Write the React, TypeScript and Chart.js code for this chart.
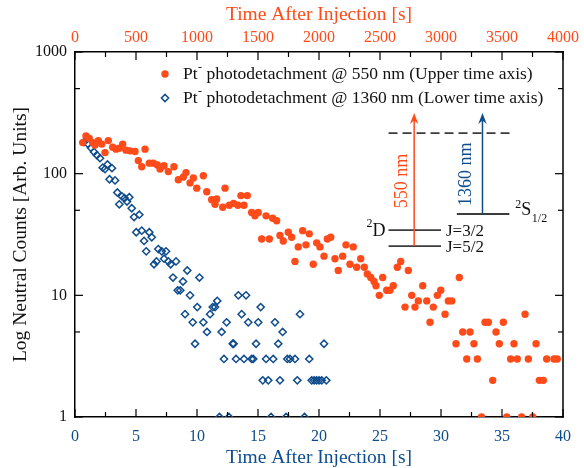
import React, { useEffect, useRef } from 'react';
import { Chart, registerables } from 'chart.js';

Chart.register(...registerables);

const ORANGE = '#FF4A1A';
const BLUE = '#0F4C8C';
const LEVEL = '#3c3c3c';
const FONT = "'Liberation Serif', 'Times New Roman', serif";

// 550 nm photodetachment: time after injection [s] on the upper axis, neutral counts
const orangeTime = [
  63, 90, 117, 145, 164, 191, 219, 246, 273, 309, 336, 363, 391, 418, 451, 492, 519, 547, 574, 609,
  642, 675, 697, 730, 765, 811, 847, 888, 910, 943, 970, 998, 1052, 1080, 1120, 1148, 1161, 1211, 1230, 1265,
  1300, 1335, 1360, 1385, 1412, 1448, 1475, 1502, 1530, 1566, 1593, 1620, 1653, 1680, 1707, 1748, 1776, 1803, 1830, 1866,
  1893, 1920, 1953, 1981, 2008, 2041, 2068, 2096, 2131, 2158, 2194, 2221, 2254, 2281, 2309, 2342, 2371, 2396, 2424, 2451,
  2467, 2494, 2522, 2555, 2582, 2609, 2642, 2670, 2705, 2732, 2760, 2787, 2814, 2850, 2883, 2910, 2937, 2970, 2998, 3033,
  3060, 3088, 3123, 3150, 3178, 3211, 3238, 3270, 3298, 3332, 3361, 3388, 3424, 3451, 3478, 3511, 3539, 3571, 3598, 3625,
  3661, 3689, 3716, 3752, 3779, 3806, 3839, 3866, 3926, 3953,
];
const orangeCounts = [
  180, 204, 195, 180, 172, 187, 175, 149, 187, 165, 159, 162, 175, 156, 154, 152, 128, 114, 159, 122,
  122, 118, 109, 116, 104, 114, 89, 94, 102, 84, 92, 76, 96, 71, 61, 56, 62, 53, 76, 55,
  57, 55, 66, 55, 66, 48, 45, 48, 29, 45, 29, 43, 41, 31, 28, 33, 30, 19, 25, 34,
  26, 32, 18, 27, 25, 21, 29, 30, 20, 16, 21, 26, 18, 25, 17, 20, 17, 15, 14, 13,
  12, 10, 14, 11, 11, 12, 17, 19, 8, 16, 10, 8, 9, 12, 9, 6, 8, 10, 11, 7,
  9, 9, 4, 14, 5, 3, 5, 4, 3, 1, 6, 6, 2, 5, 4, 6, 1, 3, 4, 3,
  1, 7, 3, 1, 4, 2, 2, 3, 3, 3,
];

// 1360 nm photodetachment: time after injection [s] on the lower axis, neutral counts
const blueTime = [
  0.74, 1.07, 1.31, 1.56, 1.8, 2.05, 2.27, 2.46, 2.66, 2.83, 3.03, 3.28, 3.47, 3.63, 3.85, 4.06, 4.26, 4.45, 4.65, 4.84,
  5.02, 5.27, 5.47, 5.66, 5.84, 6.09, 6.29, 6.48, 6.68, 6.83, 7.11, 7.3, 7.46, 7.65, 7.84, 8.03, 8.28, 8.42, 8.63, 8.85,
  9.02, 9.2, 9.43, 9.65, 9.84, 10.02, 10.2, 10.52, 10.82, 11.07, 11.29, 11.48, 11.66, 11.84, 12.02, 12.21, 12.43, 12.62, 12.93, 13.0,
  13.2, 13.39, 13.66, 13.85, 14.02, 14.2, 14.48, 14.61, 14.84, 15.02, 15.22, 15.39, 15.66, 15.84, 16.07, 16.25, 16.39, 16.66, 16.8, 17.02,
  17.3, 17.4, 17.62, 18.03, 18.22, 18.44, 18.81, 19.2, 19.4, 19.6, 19.8, 20.0, 20.22, 20.41, 20.6,
];
const blueCounts = [
  182, 175, 163, 151, 142, 134, 112, 109, 119, 90, 111, 88, 70, 56, 65, 63, 59, 64, 52, 44,
  33, 46, 34, 28, 23, 33, 30, 18, 19, 24, 23, 20, 23, 19, 18, 14, 19, 11, 11, 13,
  7, 16, 10, 6, 4, 8, 14, 6, 5, 7, 8, 8, 9, 1, 5, 3, 6, 1, 4, 4,
  3, 10, 7, 3, 10, 6, 3, 3, 4, 6, 8, 2, 3, 2, 1, 3, 6, 4, 2, 5,
  1, 3, 3, 3, 2, 7, 1, 3, 2, 2, 2, 2, 2, 4, 2,
];

const yTicks = [1, 5, 10, 50, 100, 500, 1000];
const yLabelled = [1, 10, 100, 1000];
const xTicks = [0, 2.5, 5, 7.5, 10, 12.5, 15, 17.5, 20, 22.5, 25, 27.5, 30, 32.5, 35, 37.5, 40];
const x2Ticks = [0, 250, 500, 750, 1000, 1250, 1500, 1750, 2000, 2250, 2500, 2750, 3000, 3250, 3500, 3750, 4000];

const legendLabels = [
  'Pt⁻ photodetachment @ 550 nm (Upper time axis)',
  'Pt⁻ photodetachment @ 1360 nm (Lower time axis)',
];

// Energy level inset, anchored in lower-axis seconds and counts
const INSET = {
  dashX: [25.7, 35.7], dashY: 215,
  dX: [25.7, 30.0], j32Y: 34.4, j52Y: 25.4,
  sX: [31.3, 35.6], sY: 46.6,
  arrow550X: 27.8, arrow1360X: 33.4, arrowTipY: 315,
  label550: [26.8, 87], label1360: [32.1, 99],
};

const tickPlugin = {
  id: 'inwardTicks',
  afterDraw(chart: any) {
    const { ctx, chartArea: a, scales } = chart;
    ctx.save();
    ctx.strokeStyle = '#000';
    const seg = (x1: number, y1: number, x2: number, y2: number) => {
      ctx.beginPath(); ctx.moveTo(x1, y1); ctx.lineTo(x2, y2); ctx.stroke();
    };
    ctx.lineWidth = 1.5;
    seg(a.right, a.top - 0.75, a.right, a.bottom + 0.75);
    ctx.lineWidth = 1.2;
    xTicks.forEach((v) => {
      const p = scales.x.getPixelForValue(v);
      seg(p, a.bottom, p, a.bottom - (v % 5 === 0 ? 8 : 5));
    });
    x2Ticks.forEach((v) => {
      const p = scales.x2.getPixelForValue(v);
      seg(p, a.top, p, a.top + (v % 500 === 0 ? 8 : 5));
    });
    yTicks.forEach((v) => {
      const p = scales.y.getPixelForValue(v);
      const L = yLabelled.includes(v) ? 8 : 5;
      seg(a.left, p, a.left + L, p);
      seg(a.right, p, a.right - L, p);
    });
    ctx.restore();
  },
};

const legendPlugin = {
  id: 'insideLegend',
  afterDraw(chart: any) {
    const { ctx, chartArea: a } = chart;
    ctx.save();
    const rowsY = [a.top + 22, a.top + 46];
    const mx = a.left + 90;
    const tx = a.left + 108;
    chart.data.datasets.forEach((ds: any, i: number) => {
      const y = rowsY[i];
      ctx.beginPath();
      if (ds.pointStyle === 'rectRot') {
        const r = ds.pointRadius;
        ctx.moveTo(mx - r, y); ctx.lineTo(mx, y - r); ctx.lineTo(mx + r, y); ctx.lineTo(mx, y + r); ctx.closePath();
        ctx.strokeStyle = ds.borderColor; ctx.lineWidth = ds.borderWidth; ctx.stroke();
      } else {
        ctx.arc(mx, y, ds.pointRadius, 0, Math.PI * 2);
        ctx.fillStyle = ds.backgroundColor; ctx.fill();
      }
      const [pre, post] = legendLabels[i].split('⁻');
      ctx.fillStyle = '#111';
      ctx.textBaseline = 'middle';
      ctx.textAlign = 'left';
      ctx.font = `17.5px ${FONT}`;
      ctx.fillText(pre, tx, y);
      let x = tx + ctx.measureText(pre).width;
      ctx.font = `12px ${FONT}`;
      ctx.fillText('-', x + 0.5, y - 6);
      x += ctx.measureText('-').width + 0.5;
      ctx.font = `17.5px ${FONT}`;
      ctx.fillText(post, x, y);
    });
    ctx.restore();
  },
};

const insetPlugin = {
  id: 'levelInset',
  afterDraw(chart: any) {
    const { ctx, scales } = chart;
    const X = (v: number) => scales.x.getPixelForValue(v);
    const Y = (v: number) => scales.y.getPixelForValue(v);
    const seg = (x1: number, y1: number, x2: number, y2: number) => {
      ctx.beginPath(); ctx.moveTo(x1, y1); ctx.lineTo(x2, y2); ctx.stroke();
    };
    const arrow = (x: number, y0: number, y1: number, color: string) => {
      ctx.strokeStyle = color; ctx.fillStyle = color; ctx.lineWidth = 1.5;
      seg(x, y0, x, y1 + 6);
      ctx.beginPath();
      ctx.moveTo(x, y1);
      ctx.lineTo(x + 4.2, y1 + 11);
      ctx.lineTo(x, y1 + 7.5);
      ctx.lineTo(x - 4.2, y1 + 11);
      ctx.closePath();
      ctx.fill();
    };
    ctx.save();
    ctx.strokeStyle = LEVEL;
    ctx.lineWidth = 1.8;
    ctx.setLineDash([9, 5]);
    seg(X(INSET.dashX[0]), Y(INSET.dashY), X(INSET.dashX[1]), Y(INSET.dashY));
    ctx.setLineDash([]);
    seg(X(INSET.dX[0]), Y(INSET.j32Y), X(INSET.dX[1]), Y(INSET.j32Y));
    seg(X(INSET.dX[0]), Y(INSET.j52Y), X(INSET.dX[1]), Y(INSET.j52Y));
    seg(X(INSET.sX[0]), Y(INSET.sY), X(INSET.sX[1]), Y(INSET.sY));
    arrow(X(INSET.arrow550X), Y(INSET.j52Y), Y(INSET.arrowTipY), ORANGE);
    arrow(X(INSET.arrow1360X), Y(INSET.sY), Y(INSET.arrowTipY), BLUE);
    const rot = (txt: string, v: number[], color: string) => {
      ctx.save();
      ctx.translate(X(v[0]), Y(v[1]));
      ctx.rotate(-Math.PI / 2);
      ctx.fillStyle = color;
      ctx.font = `18px ${FONT}`;
      ctx.textAlign = 'center';
      ctx.textBaseline = 'middle';
      ctx.fillText(txt, 0, 0);
      ctx.restore();
    };
    rot('550 nm', INSET.label550, ORANGE);
    rot('1360 nm', INSET.label1360, BLUE);
    ctx.fillStyle = '#111';
    ctx.textBaseline = 'middle';
    ctx.font = `17px ${FONT}`;
    ctx.textAlign = 'left';
    ctx.fillText('J=3/2', X(INSET.dX[1]) + 5, Y(INSET.j32Y) + 1);
    ctx.fillText('J=5/2', X(INSET.dX[1]) + 5, Y(INSET.j52Y) + 1);
    ctx.textAlign = 'right';
    ctx.font = `18px ${FONT}`;
    const dRight = X(INSET.dX[0]) - 3;
    ctx.fillText('D', dRight, Y(INSET.j32Y) + 1);
    const dW = ctx.measureText('D').width;
    ctx.font = `12px ${FONT}`;
    ctx.fillText('2', dRight - dW, Y(INSET.j32Y) - 6);
    ctx.textAlign = 'left';
    ctx.textBaseline = 'alphabetic';
    const sx = X(INSET.sX[1]) + 6;
    const sy = Y(INSET.sY);
    ctx.font = `12px ${FONT}`;
    ctx.fillText('2', sx, sy - 6);
    const w2 = ctx.measureText('2').width;
    ctx.font = `18px ${FONT}`;
    ctx.fillText('S', sx + w2, sy + 1);
    const wS = ctx.measureText('S').width;
    ctx.font = `12px ${FONT}`;
    ctx.fillText('1/2', sx + w2 + wS + 0.5, sy + 8);
    ctx.restore();
  },
};

export default function App() {
  const ref = useRef<HTMLCanvasElement | null>(null);
  useEffect(() => {
    if (!ref.current) return;
    Chart.defaults.font.family = FONT;
    const tickFont = { family: FONT, size: 16 };
    const titleFont = { family: FONT, size: 19.5, lineHeight: 1 };
    const border = { display: true, color: '#000', width: 1.5 };
    const chart = new Chart(ref.current, {
      type: 'scatter',
      data: {
        datasets: [
          {
            label: legendLabels[0],
            xAxisID: 'x2',
            yAxisID: 'y',
            data: orangeTime.map((t, i) => ({ x: t, y: orangeCounts[i] })),
            pointStyle: 'circle',
            pointRadius: 3.7,
            pointHoverRadius: 3.7,
            backgroundColor: ORANGE,
            borderColor: ORANGE,
            borderWidth: 0,
            clip: 0,
          } as any,
          {
            label: legendLabels[1],
            xAxisID: 'x',
            yAxisID: 'y',
            data: blueTime.map((t, i) => ({ x: t, y: blueCounts[i] })),
            pointStyle: 'rectRot',
            pointRadius: 3.6,
            pointHoverRadius: 3.6,
            backgroundColor: 'rgba(255,255,255,0)',
            borderColor: BLUE,
            borderWidth: 1.5,
            clip: 0,
          } as any,
        ],
      },
      options: {
        animation: false,
        responsive: true,
        maintainAspectRatio: false,
        layout: { padding: { left: 0, top: 0, bottom: 0, right: 21 } },
        plugins: { legend: { display: false }, tooltip: { enabled: false } },
        scales: {
          x: {
            type: 'linear',
            position: 'bottom',
            min: 0,
            max: 40,
            grid: { display: false, drawTicks: false },
            border,
            afterBuildTicks: (s: any) => { s.ticks = xTicks.map((v) => ({ value: v })); },
            afterFit: (s: any) => { s.height = 51; },
            ticks: {
              autoSkip: false, maxRotation: 0, padding: 10, color: BLUE, font: tickFont,
              callback: (v: any) => (Number(v) % 5 === 0 ? String(v) : ''),
            },
            title: { display: true, text: 'Time After Injection [s]', color: BLUE, font: titleFont, padding: { top: 0, bottom: 0 } },
          },
          x2: {
            type: 'linear',
            position: 'top',
            min: 0,
            max: 4000,
            grid: { display: false, drawTicks: false },
            border,
            afterBuildTicks: (s: any) => { s.ticks = x2Ticks.map((v) => ({ value: v })); },
            afterFit: (s: any) => { s.height = 52; },
            ticks: {
              autoSkip: false, maxRotation: 0, padding: 5, color: ORANGE, font: tickFont,
              callback: (v: any) => (Number(v) % 500 === 0 ? String(v) : ''),
            },
            title: { display: true, text: 'Time After Injection [s]', color: ORANGE, font: titleFont, padding: { top: 5, bottom: 0 } },
          },
          y: {
            type: 'logarithmic',
            position: 'left',
            min: 1,
            max: 1000,
            grid: { display: false, drawTicks: false },
            border,
            afterBuildTicks: (s: any) => { s.ticks = yTicks.map((v) => ({ value: v })); },
            afterFit: (s: any) => { s.width = 75; },
            ticks: {
              autoSkip: false, padding: 8, color: '#111', font: tickFont,
              callback: (v: any) => (yLabelled.includes(Number(v)) ? String(v) : ''),
            },
            title: { display: true, text: 'Log Neutral Counts [Arb. Units]', color: '#111', font: titleFont, padding: { top: 11, bottom: 0 } },
          },
        },
      } as any,
      plugins: [tickPlugin, legendPlugin, insetPlugin],
    });
    return () => chart.destroy();
  }, []);
  return (
    <div style={{ position: 'absolute', left: 0, top: 0, width: 584, height: 468, background: '#fff' }}>
      <canvas ref={ref} />
    </div>
  );
}
